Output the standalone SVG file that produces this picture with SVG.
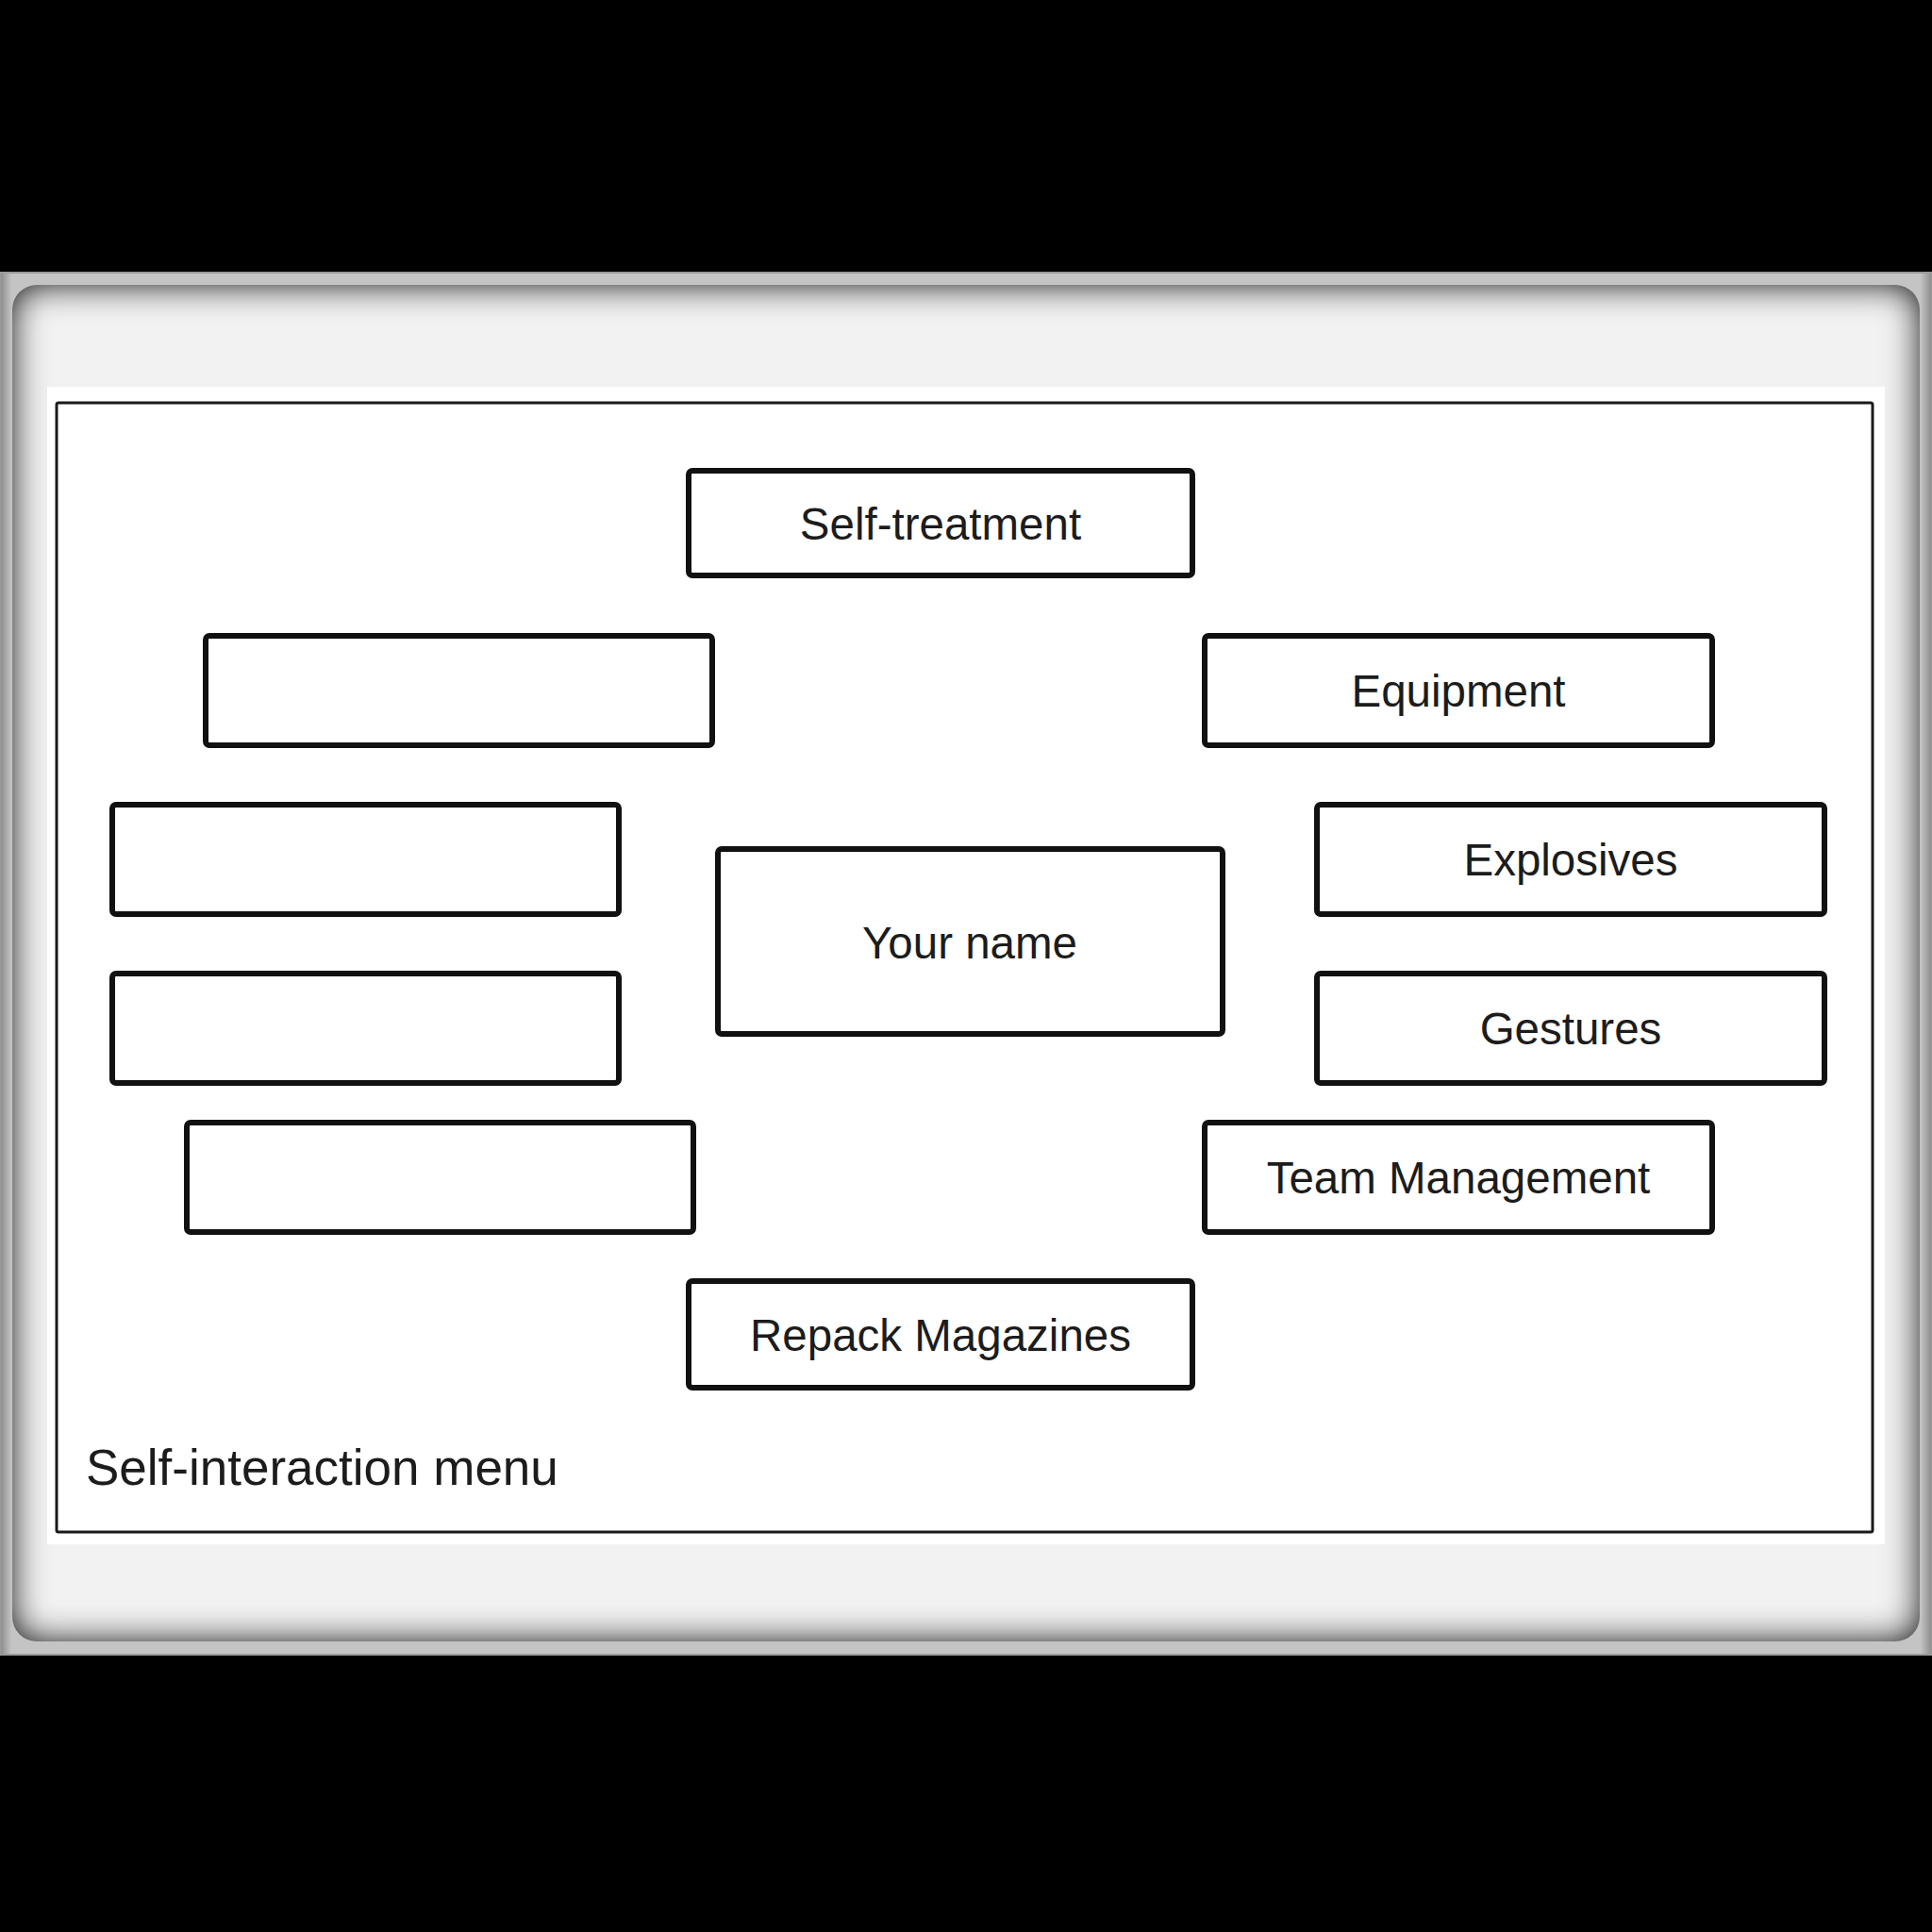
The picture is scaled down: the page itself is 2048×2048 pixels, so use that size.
<svg xmlns="http://www.w3.org/2000/svg" width="2048" height="2048" viewBox="0 0 2048 2048">
  <defs>
    <filter id="inner" x="-5%" y="-5%" width="110%" height="110%">
      <feFlood flood-color="#1e1e1e" result="f"/>
      <feComposite in="f" in2="SourceAlpha" operator="out" result="inv"/>
      <feGaussianBlur in="inv" stdDeviation="18" result="blur"/>
      <feComposite in="blur" in2="SourceAlpha" operator="in" result="sh"/>
      <feMerge><feMergeNode in="SourceGraphic"/><feMergeNode in="sh"/><feMergeNode in="sh"/></feMerge>
    </filter>
    <linearGradient id="outerV" x1="0" y1="0" x2="1" y2="0">
      <stop offset="0" stop-color="#8a8a8a"/>
      <stop offset="0.006" stop-color="#c4c4c4"/>
      <stop offset="0.994" stop-color="#c4c4c4"/>
      <stop offset="1" stop-color="#8a8a8a"/>
    </linearGradient>
  </defs>
  <style>
    .node { fill: #ffffff; stroke: #111111; stroke-width: 6; }
    .lbl { font-family: "Liberation Sans", Arial, sans-serif; font-size: 47.5px; fill: #1c1c1c; text-anchor: middle; }
    .title { font-family: "Liberation Sans", Arial, sans-serif; font-size: 53px; fill: #1c1c1c; }
  </style>
  <rect x="0" y="0" width="2048" height="2048" fill="#000000"/>
  <!-- frame -->
  <rect x="0" y="289" width="2048" height="1465" fill="url(#outerV)" stroke="#9a9a9a" stroke-width="2"/>
  <rect x="13" y="302" width="2022" height="1438" rx="26" ry="26" fill="#f2f2f2" filter="url(#inner)"/>
  <rect x="50" y="410" width="1948" height="1227" fill="#ffffff"/>
  <rect x="60" y="427" width="1925" height="1197" fill="#ffffff" stroke="#1a1a1a" stroke-width="3" rx="2"/>
  <text class="title" x="91" y="1574">Self-interaction menu</text>

  <g id="connectors"></g>

  <g id="self-treatment">
    <rect class="node" x="730" y="499" width="534" height="111" rx="4"/>
    <text class="lbl" x="997" y="572">Self-treatment</text>
  </g>
  <g id="left-1">
    <rect class="node" x="218" y="674" width="537" height="116" rx="4"/>
  </g>
  <g id="equipment">
    <rect class="node" x="1277" y="674" width="538" height="116" rx="4"/>
    <text class="lbl" x="1546" y="749">Equipment</text>
  </g>
  <g id="left-2">
    <rect class="node" x="119" y="853" width="537" height="116" rx="4"/>
  </g>
  <g id="explosives">
    <rect class="node" x="1396" y="853" width="538" height="116" rx="4"/>
    <text class="lbl" x="1665" y="928">Explosives</text>
  </g>
  <g id="your-name">
    <rect class="node" x="761" y="900" width="535" height="196" rx="4"/>
    <text class="lbl" x="1028" y="1016">Your name</text>
  </g>
  <g id="left-3">
    <rect class="node" x="119" y="1032" width="537" height="116" rx="4"/>
  </g>
  <g id="gestures">
    <rect class="node" x="1396" y="1032" width="538" height="116" rx="4"/>
    <text class="lbl" x="1665" y="1107">Gestures</text>
  </g>
  <g id="left-4">
    <rect class="node" x="198" y="1190" width="537" height="116" rx="4"/>
  </g>
  <g id="team-management">
    <rect class="node" x="1277" y="1190" width="538" height="116" rx="4"/>
    <text class="lbl" x="1546" y="1265">Team Management</text>
  </g>
  <g id="repack-magazines">
    <rect class="node" x="730" y="1358" width="534" height="113" rx="4"/>
    <text class="lbl" x="997" y="1432">Repack Magazines</text>
  </g>
</svg>
